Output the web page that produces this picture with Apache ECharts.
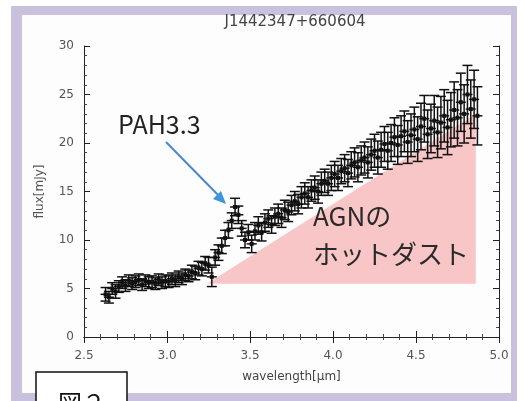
<!DOCTYPE html>
<html><head><meta charset="utf-8">
<script src="https://cdn.jsdelivr.net/npm/echarts@6/dist/echarts.min.js"></script>
<style>html,body{margin:0;padding:0;background:#fff}#c{width:525px;height:401px}</style>
</head><body><div id="c"></div>
<script>
const title = "J1442347+660604";
const xTicks = [2.5, 3.0, 3.5, 4.0, 4.5, 5.0];
const yTicks = [0, 5, 10, 15, 20, 25, 30];
const wavelength = [2.63,2.65,2.67,2.69,2.71,2.73,2.75,2.77,2.79,2.81,2.83,2.85,2.87,2.89,2.91,2.93,2.95,2.97,2.99,3.01,3.03,3.05,3.07,3.09,3.11,3.13,3.15,3.17,3.19,3.21,3.23,3.25,3.27,3.29,3.31,3.33,3.35,3.37,3.39,3.41,3.43,3.45,3.47,3.49,3.51,3.53,3.55,3.57,3.59,3.61,3.63,3.65,3.67,3.69,3.71,3.73,3.75,3.77,3.79,3.81,3.83,3.85,3.87,3.89,3.91,3.93,3.95,3.97,3.99,4.01,4.03,4.05,4.07,4.09,4.11,4.13,4.15,4.17,4.19,4.21,4.23,4.25,4.27,4.29,4.31,4.33,4.35,4.37,4.39,4.41,4.43,4.45,4.47,4.49,4.51,4.53,4.55,4.57,4.59,4.61,4.63,4.65,4.67,4.69,4.71,4.73,4.75,4.77,4.79,4.81,4.83,4.85,4.87];
const flux = [4.4,4.1,5.0,4.7,5.2,5.6,5.3,5.8,5.5,5.7,5.9,5.4,5.8,5.6,5.7,5.5,5.9,5.6,5.8,5.7,6.0,5.8,6.2,6.0,6.4,6.3,6.7,6.6,7.1,7.0,7.6,7.4,6.2,8.2,8.7,9.4,10.2,11.0,12.0,13.4,12.6,11.2,10.0,10.8,9.6,10.9,11.5,10.8,11.8,12.2,11.6,12.4,12.7,12.3,13.1,12.9,13.6,14.0,13.7,14.4,14.8,14.4,15.1,15.4,15.0,15.8,16.1,15.8,16.4,16.8,16.4,17.1,17.4,16.9,17.7,18.0,17.5,18.2,18.5,18.0,18.8,19.2,18.5,19.3,19.9,19.2,20.0,20.6,19.8,20.7,21.2,20.1,20.8,21.4,20.4,21.7,22.5,20.9,21.5,22.3,21.1,22.1,22.8,21.6,22.4,23.4,22.6,24.2,23.0,25.0,23.5,24.5,22.8];
const fluxErr = [0.7,0.6,0.6,0.7,0.6,0.6,0.6,0.6,0.6,0.6,0.6,0.6,0.6,0.6,0.6,0.6,0.6,0.6,0.6,0.6,0.6,0.6,0.6,0.6,0.6,0.6,0.7,0.7,0.7,0.7,0.7,0.8,1.0,0.8,0.8,0.8,0.8,0.8,0.8,0.9,0.9,0.8,0.8,0.8,0.9,0.9,0.9,0.9,0.9,0.9,0.9,0.9,1.0,1.0,1.0,1.0,1.0,1.0,1.0,1.1,1.1,1.1,1.1,1.2,1.2,1.2,1.2,1.2,1.3,1.3,1.3,1.3,1.4,1.4,1.4,1.5,1.5,1.5,1.6,1.6,1.6,1.7,1.7,1.8,1.8,1.9,1.9,2.0,2.0,2.1,2.1,2.2,2.2,2.3,2.3,2.4,2.4,2.5,2.5,2.6,2.6,2.7,2.7,2.8,2.8,2.9,2.9,3.0,3.0,3.0,3.0,3.0,3.0];
const hotDustX = [3.24, 4.86, 4.86];
const hotDustY = [5.5, 5.5, 23.0];

const chart = echarts.init(document.getElementById('c'));
const pts = wavelength.map((x,i)=>[x, flux[i], flux[i]-fluxErr[i], flux[i]+fluxErr[i]]);
const tri = hotDustX.map((x,i)=>[x, hotDustY[i]]);
const axisCommon = {
  type:'value',
  axisLine:{show:true, lineStyle:{color:'#222', width:1}},
  splitLine:{show:false},
  axisTick:{show:true, inside:true, length:6, lineStyle:{color:'#222'}},
  minorTick:{show:true, splitNumber:5, length:3, lineStyle:{color:'#444'}},
};
chart.setOption({
  animation:false,
  backgroundColor:'#fff',
  title:{text:title, left:290, top:10, textAlign:'center', textStyle:{fontFamily:'DejaVu Sans', fontWeight:'normal', fontSize:15, color:'#444'}},
  grid:{left:84, right:26, top:46, bottom:64},
  xAxis:[
    Object.assign({}, axisCommon, {min:xTicks[0], max:xTicks[xTicks.length-1], interval:0.5, position:'bottom',
      name:'wavelength[μm]', nameLocation:'middle', nameGap:34, nameTextStyle:{fontFamily:'DejaVu Sans', fontSize:12, color:'#444'},
      axisLabel:{fontFamily:'DejaVu Sans', fontSize:12, color:'#555', margin:13, formatter:v=>v.toFixed(1)}}),
    Object.assign({}, axisCommon, {min:xTicks[0], max:xTicks[xTicks.length-1], interval:0.5, position:'top', axisLabel:{show:false}})
  ],
  yAxis:[
    Object.assign({}, axisCommon, {min:yTicks[0], max:yTicks[yTicks.length-1], interval:5, position:'left',
      name:'flux[mJy]', nameLocation:'middle', nameGap:38, nameTextStyle:{fontFamily:'DejaVu Sans', fontSize:12, color:'#555'},
      axisLabel:{fontFamily:'DejaVu Sans', fontSize:12, color:'#555', margin:10}}),
    Object.assign({}, axisCommon, {min:yTicks[0], max:yTicks[yTicks.length-1], interval:5, position:'right', axisLabel:{show:false}})
  ],
  series:[
    {type:'custom', z:1, data:tri, renderItem:(params, api)=>{
      if(params.dataIndex!==0) return;
      const p = tri.map(d=>api.coord(d));
      return {type:'polygon', shape:{points:p}, style:{fill:'#f8c6c6'}};
    }},
    {type:'custom', z:3, data:pts, encode:{x:0,y:[1,2,3]}, renderItem:(params, api)=>{
      const x = api.value(0);
      const lo = api.coord([x, api.value(2)]);
      const hi = api.coord([x, api.value(3)]);
      const c = api.coord([x, api.value(1)]);
      const w = 5;
      const st = {stroke:'#111', lineWidth:1.5};
      return {type:'group', children:[
        {type:'line', shape:{x1:lo[0],y1:lo[1],x2:hi[0],y2:hi[1]}, style:st},
        {type:'line', shape:{x1:lo[0]-w,y1:lo[1],x2:lo[0]+w,y2:lo[1]}, style:st},
        {type:'line', shape:{x1:hi[0]-w,y1:hi[1],x2:hi[0]+w,y2:hi[1]}, style:st},
        {type:'line', shape:{x1:c[0]-w,y1:c[1],x2:c[0]+w,y2:c[1]}, style:st},
        {type:'rect', shape:{x:c[0]-2,y:c[1]-2,width:4,height:4}, style:{fill:'#111'}}
      ]};
    }}
  ],
  graphic:[
    {type:'rect', z:-10, shape:{x:11,y:6,width:506,height:395}, style:{fill:'#c9c1dd'}},
    {type:'rect', z:-9, shape:{x:22,y:15,width:489,height:378}, style:{fill:'#fdfdfe'}},
    {type:'text', z:10, left:118, top:112, style:{text:'PAH3.3', fontFamily:'Noto Sans CJK JP', fontSize:25, fill:'#222'}},
    {type:'line', z:10, shape:{x1:166,y1:142,x2:222,y2:199}, style:{stroke:'#4a88cc', lineWidth:2}},
    {type:'polygon', z:10, shape:{points:[[226,204],[213,199],[221,191]]}, style:{fill:'#3d95dd'}},
    {type:'text', z:10, left:313, top:203, style:{text:'AGNの', fontFamily:'Noto Sans CJK JP', fontSize:26, fill:'#2a2a2a'}},
    {type:'text', z:10, left:313, top:241, style:{text:'ホットダスト', fontFamily:'Noto Sans CJK JP', fontSize:26, fill:'#2a2a2a'}},
    {type:'rect', z:20, shape:{x:36,y:372,width:91,height:40}, style:{fill:'#fff', stroke:'#111', lineWidth:1.5}},
    {type:'text', z:21, left:58, top:391, style:{text:'図２', fontFamily:'Noto Sans CJK JP', fontSize:24, fill:'#111'}}
  ]
});
</script></body></html>
